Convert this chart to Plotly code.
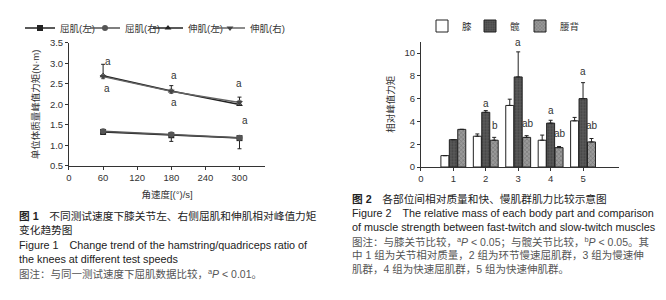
import plotly.graph_objects as go

# ---------- Figure 1 data ----------
speeds = [60, 180, 300]
flex_left = [1.33, 1.25, 1.18]
flex_right = [1.35, 1.27, 1.19]
ext_left = [2.70, 2.33, 2.00]
ext_right = [2.68, 2.32, 2.05]
flex_left_err_minus = [0.06, 0.15, 0.26]
flex_right_err_plus = [0.04, 0.05, 0.04]
ext_left_err_plus = [0.28, 0.13, 0.18]
ext_right_err = [0.05, 0.05, 0.05]
fig1_names = ["屈肌(左)", "屈肌(右)", "伸肌(左)", "伸肌(右)"]

# ---------- Figure 2 data ----------
groups = [1, 2, 3, 4, 5]
knee = [1.0, 2.7, 5.4, 2.35, 4.05]
knee_err = [0, 0.2, 0.55, 0.45, 0.3]
hip = [2.4, 4.8, 7.9, 3.85, 6.0]
hip_err = [0, 0.15, 2.2, 0.25, 1.4]
back = [3.3, 2.35, 2.6, 1.7, 2.2]
back_err = [0, 0.25, 0.15, 0.1, 0.3]
fig2_names = ["膝", "髋", "腰背"]

FONT = "Arial, 'Liberation Sans', 'Noto Sans CJK SC', sans-serif"
TXT = "#333333"

fig = go.Figure()

line_c = "#222222"
fig.add_trace(go.Scatter(x=speeds, y=flex_left, name=fig1_names[0], mode="lines+markers", showlegend=True,
                         line=dict(color=line_c, width=1.5), marker=dict(symbol="square", size=6, color=line_c),
                         error_y=dict(type="data", symmetric=False, array=[0, 0, 0], arrayminus=flex_left_err_minus,
                                      color=line_c, thickness=1, width=2),
                         xaxis="x", yaxis="y", legend="legend"))
fig.add_trace(go.Scatter(x=speeds, y=flex_right, name=fig1_names[1], mode="lines+markers",
                         line=dict(color="#555555", width=1.5), marker=dict(symbol="circle", size=6, color="#555555"),
                         error_y=dict(type="data", symmetric=False, array=flex_right_err_plus, arrayminus=[0.03, 0.03, 0.03],
                                      color="#555555", thickness=1, width=2),
                         xaxis="x", yaxis="y", legend="legend2"))
fig.add_trace(go.Scatter(x=speeds, y=ext_left, name=fig1_names[2], mode="lines+markers",
                         line=dict(color=line_c, width=1.5), marker=dict(symbol="triangle-up", size=6, color=line_c),
                         error_y=dict(type="data", symmetric=False, array=ext_left_err_plus, arrayminus=[0, 0, 0],
                                      color=line_c, thickness=1, width=2),
                         xaxis="x", yaxis="y", legend="legend3"))
fig.add_trace(go.Scatter(x=speeds, y=ext_right, name=fig1_names[3], mode="lines+markers",
                         line=dict(color="#666666", width=1.5), marker=dict(symbol="triangle-down", size=6, color="#444444"),
                         error_y=dict(type="data", array=ext_right_err, color="#666666", thickness=1, width=2),
                         xaxis="x", yaxis="y", legend="legend4"))

fig.add_trace(go.Bar(x=groups, y=knee, name=fig2_names[0],
                     marker=dict(color="white", line=dict(color="#222222", width=1)),
                     error_y=dict(type="data", symmetric=False, array=knee_err, arrayminus=[0]*5,
                                  color="#222222", thickness=1, width=2),
                     xaxis="x2", yaxis="y2", legend="legend5"))
fig.add_trace(go.Bar(x=groups, y=hip, name=fig2_names[1],
                     marker=dict(color="#5a5a5a", line=dict(color="#222222", width=1),
                                 pattern=dict(shape=".", fgcolor="#2a2a2a", size=3, solidity=0.4)),
                     error_y=dict(type="data", symmetric=False, array=hip_err, arrayminus=[0]*5,
                                  color="#222222", thickness=1, width=2),
                     xaxis="x2", yaxis="y2", legend="legend6"))
fig.add_trace(go.Bar(x=groups, y=back, name=fig2_names[2],
                     marker=dict(color="#9a9a9a", line=dict(color="#222222", width=1),
                                 pattern=dict(shape="x", fgcolor="#3a3a3a", size=3, solidity=0.3)),
                     error_y=dict(type="data", symmetric=False, array=back_err, arrayminus=[0]*5,
                                  color="#222222", thickness=1, width=2),
                     xaxis="x2", yaxis="y2", legend="legend7"))

sig1 = [(69, 3.05, "a"), (67, 2.4, "a"), (184, 2.7, "a"), (184, 2.05, "a"), (300, 2.5, "a"), (309, 1.6, "a")]
for x, y, t in sig1:
    fig.add_annotation(x=x, y=y, text=t, xref="x", yref="y", showarrow=False,
                       font=dict(size=10, color=TXT, family=FONT))
sig2 = [(2.0, 5.6, "a"), (2.27, 3.6, "b"), (3.0, 10.9, "a"), (3.29, 3.85, "ab"),
        (4.0, 5.0, "a"), (4.29, 2.9, "ab"), (5.0, 8.4, "a"), (5.29, 3.6, "ab")]
for x, y, t in sig2:
    fig.add_annotation(x=x, y=y, text=t, xref="x2", yref="y2", showarrow=False,
                       font=dict(size=10, color=TXT, family=FONT))

axis_common = dict(showline=True, linecolor="#333333", linewidth=1, ticks="outside", ticklen=3,
                   tickcolor="#333333", showgrid=False, zeroline=False, automargin=False,
                   tickfont=dict(size=9.5, color=TXT, family=FONT))


def leg(xpx, ypx):
    return dict(orientation="h", x=xpx / 666, y=1 - ypx / 300, xanchor="left", yanchor="middle",
                font=dict(size=9.5, color=TXT, family=FONT), itemwidth=30, bgcolor="rgba(0,0,0,0)",
                visible=True)


fig.update_layout(
    width=666, height=300, margin=dict(l=0, r=0, t=0, b=0, autoexpand=False),
    paper_bgcolor="white", plot_bgcolor="white", showlegend=True,
    font=dict(family=FONT, color=TXT),
    barmode="group", bargap=0.22, bargroupgap=0.05,
    xaxis=dict(domain=[0.1036, 0.398], range=[0, 345], tickvals=[0, 60, 120, 180, 240, 300],
               title=dict(text="角速度[(°)/s]", font=dict(size=9.5, color=TXT), standoff=8), anchor="y", **axis_common),
    yaxis=dict(domain=[0.4467, 0.8567], range=[0.5, 3.5], tickvals=[0.5, 1.0, 1.5, 2.0, 2.5, 3.0, 3.5],
               tickformat=".1f",
               title=dict(text="单位体质量峰值力矩(N·m)", font=dict(size=9.5, color=TXT), standoff=8), anchor="x", **axis_common),
    xaxis2=dict(domain=[0.632, 0.929], range=[0, 6.1], tickvals=[0, 1, 2, 3, 4, 5],
                anchor="y2", **axis_common),
    yaxis2=dict(domain=[0.4433, 0.8613], range=[0, 11], tickvals=[0, 2, 4, 6, 8, 10],
                title=dict(text="相对峰值力矩", font=dict(size=9.5, color=TXT), standoff=8), anchor="x2", **axis_common),
    legend=leg(20, 28), legend2=leg(85, 28), legend3=leg(148, 28), legend4=leg(210, 28),
    legend5=leg(422, 26), legend6=leg(470, 26), legend7=leg(520, 26),
)

cap_l = [
    ("<b>图 1</b>　不同测试速度下膝关节左、右侧屈肌和伸肌相对峰值力矩", 216, "#222222", 10.7),
    ("变化趋势图", 230, "#222222", 10.7),
    ("Figure 1　Change trend of the hamstring/quadriceps ratio of", 245, "#222222", 10.8),
    ("the knees at different test speeds", 259, "#222222", 10.8),
    ("图注：与同一测试速度下屈肌数据比较，<sup>a</sup><i>P</i> < 0.01。", 273, "#555555", 10.5),
]
for t, ypx, c, s in cap_l:
    fig.add_annotation(x=17 / 666, y=1 - ypx / 300, xref="paper", yref="paper", text=t, showarrow=False,
                       xanchor="left", yanchor="middle", font=dict(size=s, color=c, family=FONT))
cap_r = [
    ("<b>图 2</b>　各部位间相对质量和快、慢肌群肌力比较示意图", 199, "#222222", 10.7),
    ("Figure 2　The relative mass of each body part and comparison", 213, "#222222", 10.8),
    ("of muscle strength between fast-twitch and slow-twitch muscles", 227, "#222222", 10.8),
    ("图注：与膝关节比较，<sup>a</sup><i>P</i> < 0.05；与髋关节比较，<sup>b</sup><i>P</i> < 0.05。其", 241, "#555555", 10.5),
    ("中 1 组为关节相对质量，2 组为环节慢速屈肌群，3 组为慢速伸", 255, "#555555", 10.5),
    ("肌群，4 组为快速屈肌群，5 组为快速伸肌群。", 269, "#555555", 10.5),
]
for t, ypx, c, s in cap_r:
    fig.add_annotation(x=350 / 666, y=1 - ypx / 300, xref="paper", yref="paper", text=t, showarrow=False,
                       xanchor="left", yanchor="middle", font=dict(size=s, color=c, family=FONT))

fig.write_html("out.html", config={"displayModeBar": False},
               post_script="document.body.style.margin='0';document.body.style.overflow='hidden';")
